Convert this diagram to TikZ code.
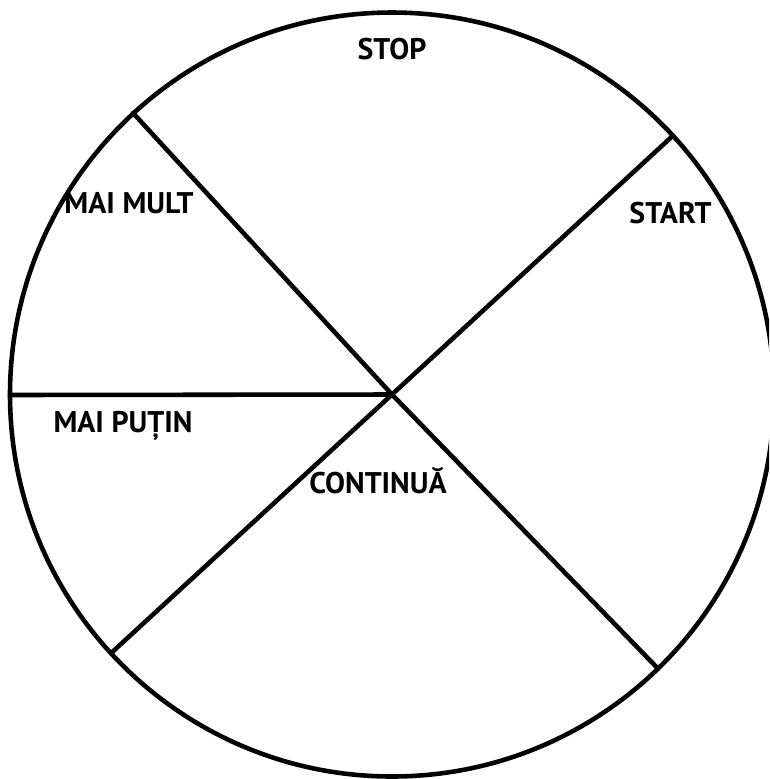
\documentclass[tikz,border=0pt]{standalone}
\usepackage{fontspec}
\setmainfont{PT Sans}
\usetikzlibrary{positioning}
\tikzset{
  wheelline/.style={line width=2.6pt, line cap=round},
  wheellabel/.style={font=\fontsize{17}{20}\selectfont\bfseries, inner sep=0pt, anchor=base},
}
\begin{document}
\begin{tikzpicture}[x=0.02cm, y=-0.02cm]
  \clip (0,0) rectangle (769,779);
  % wheel and spokes
  \coordinate (hub) at (392,394.5);
  \coordinate (rimUL) at (133,113);
  \coordinate (rimUR) at (673,135.6);
  \coordinate (rimLL) at (111,653.2);
  \coordinate (rimLR) at (658,668.6);
  \coordinate (rimL) at (10,395);
  \draw[wheelline] (hub) circle (382);
  \draw[wheelline] (rimUL) -- (hub) -- (rimLR);
  \draw[wheelline] (rimUR) -- (hub) -- (rimLL);
  \draw[wheelline] (rimL) -- (hub);
  % labels
  \node[wheellabel] (stop) at (392,59.3) {STOP};
  \node[wheellabel] (start) at (670.5,223) {START};
  \node[wheellabel] (more) at (129,213) {MAI MULT};
  \node[wheellabel] (less) at (123,432) {MAI PUȚIN};
  \node[wheellabel] (cont) at (378,493) {CONTINUĂ};
\end{tikzpicture}
\end{document}
